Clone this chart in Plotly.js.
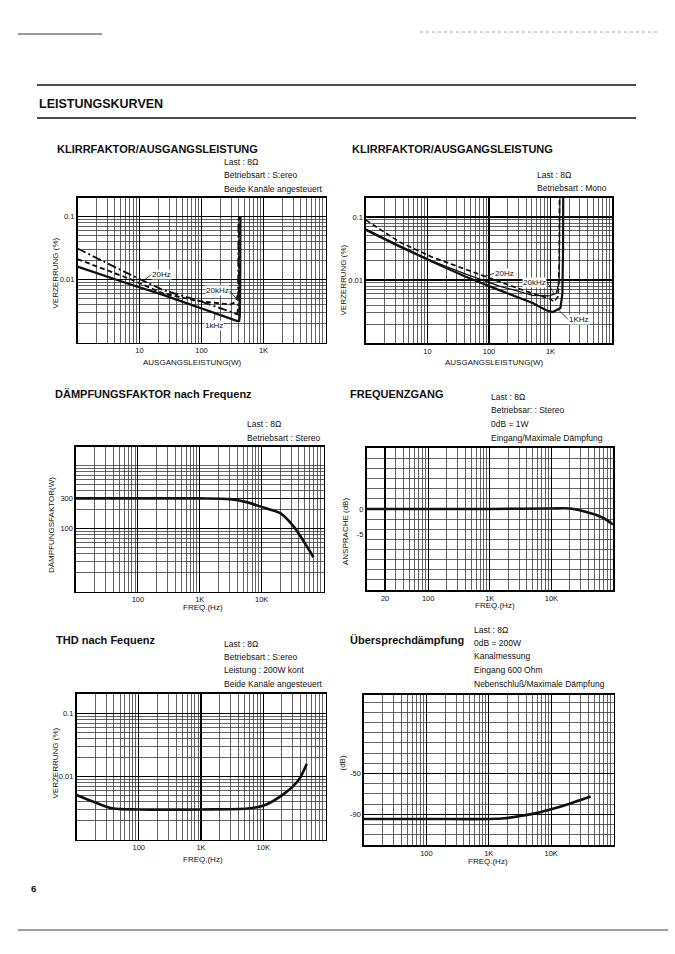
<!DOCTYPE html>
<html>
<head>
<meta charset="utf-8">
<script src="https://cdn.plot.ly/plotly-3.0.1.min.js"></script>
<style>html,body{margin:0;padding:0;background:#fff;}#chart{width:675px;height:954px;}</style>
</head>
<body>
<div id="chart"></div>
<script>
// ---------- DATA ----------
// Chart 1: Klirrfaktor / Ausgangsleistung (Stereo)
const st20HzW   = [1, 3, 7, 24, 84, 288, 380, 390, 392, 395];
const st20HzD   = [0.031, 0.018, 0.012, 0.0068, 0.0047, 0.0031, 0.0028, 0.004, 0.02, 0.1];
const st20kHzW  = [1, 3, 7, 24, 84, 121, 200, 288, 340, 370, 400, 405, 407];
const st20kHzD  = [0.021, 0.014, 0.0102, 0.006, 0.0046, 0.0044, 0.0042, 0.004, 0.0043, 0.0049, 0.0065, 0.02, 0.1];
const st1kHzW   = [1, 3, 7, 24, 84, 288, 370, 405, 415, 420, 422, 425];
const st1kHzD   = [0.016, 0.011, 0.0084, 0.0057, 0.0037, 0.0024, 0.0022, 0.0022, 0.0026, 0.005, 0.02, 0.1];
// Chart 2: Klirrfaktor / Ausgangsleistung (Mono)
const mo20HzW   = [1, 3.5, 12, 42, 147, 513, 955, 1150, 1330, 1390, 1400];
const mo20HzD   = [0.089, 0.040, 0.023, 0.0145, 0.0094, 0.0061, 0.0051, 0.0045, 0.0055, 0.02, 0.2];
const mo20kHzW  = [1, 3.5, 12, 42, 147, 513, 955, 1230, 1380, 1410, 1420];
const mo20kHzD  = [0.064, 0.035, 0.02, 0.0124, 0.008, 0.0057, 0.0056, 0.0061, 0.009, 0.03, 0.2];
const mo1kHzW   = [1, 3.5, 12, 42, 147, 513, 850, 1100, 1450, 1560, 1600, 1610];
const mo1kHzD   = [0.062, 0.034, 0.0195, 0.0112, 0.0069, 0.0043, 0.0033, 0.0031, 0.0036, 0.006, 0.03, 0.2];
// Chart 3: Dämpfungsfaktor nach Frequenz
const dfFreq    = [10, 100, 1000, 3100, 5700, 10700, 20000, 33000, 69000];
const dfValue   = [300, 300, 300, 292, 262, 215, 175, 107, 35];
// Chart 4: Frequenzgang
const frFreq    = [10, 100, 1000, 10000, 20000, 30000, 45000, 70000, 100000];
const frDb      = [0, 0, 0, 0.1, 0.1, -0.3, -0.9, -1.8, -3.1];
// Chart 5: THD nach Frequenz
const thdFreq   = [10, 21, 39, 100, 1000, 5600, 10500, 22000, 37000, 50000];
const thdValue  = [0.0051, 0.0038, 0.0031, 0.003, 0.003, 0.0031, 0.0035, 0.0054, 0.0088, 0.016];
// Chart 6: Übersprechdämpfung
const ctFreq    = [10, 100, 1000, 1800, 3200, 6000, 10000, 21000, 43000];
const ctDb      = [-94.5, -94.5, -94.5, -93.8, -91.6, -88.5, -85, -79, -72.5];

// Tick labels
const powerTicks = [10, 100, 1000];
const powerTickText = ['10', '100', '1K'];
const distTicks = [0.01, 0.1];
const distTickText = ['0.01', '0.1'];
const freqTicks = [100, 1000, 10000];
const freqTickText = ['100', '1K', '10K'];
const freqTicks4 = [20, 100, 1000, 10000];
const freqTickText4 = ['20', '100', '1K', '10K'];
const dfTicks = [100, 300];
const dfTickText = ['100', '300'];
const frTicks = [0, -5];
const frTickText = ['0', '-5'];
const ctTicks = [-50, -90];
const ctTickText = ['-50', '-90'];

// ---------- LAYOUT HELPERS ----------
const W = 675, H = 954;
const FONT = 'Liberation Sans, Arial, Helvetica, sans-serif';
const INK = '#111';
function dx(a, b) { return [a / W, b / W]; }
function dy(a, b) { return [1 - b / H, 1 - a / H]; }
function logVals(e0, e1) {
  const v = [];
  for (let e = e0; e < e1; e++) for (let m = 1; m < 10; m++) v.push(m * Math.pow(10, e));
  v.push(Math.pow(10, e1));
  return v;
}
function linVals(a, b, s) { const v = []; for (let t = a; t <= b + 1e-9; t += s) v.push(t); return v; }

function axis(domain, type, range, tv, tt, minorVals, anchor, majorGrid) {
  return {
    domain, type, range, anchor,
    tickmode: 'array', tickvals: tv, ticktext: tt,
    showgrid: majorGrid !== false, gridcolor: '#000', gridwidth: 1.2,
    minor: { tickmode: 'array', tickvals: minorVals, showgrid: true, gridcolor: '#3c3c3c', gridwidth: 0.8, ticks: '' },
    ticks: '', showline: true, mirror: true, linecolor: '#000', linewidth: 1.6,
    zeroline: false, fixedrange: true,
    tickfont: { family: FONT, size: 7.5, color: INK }
  };
}

function onCurve(xs, ys, x) {
  const lx = Math.log10(x);
  for (let i = 0; i < xs.length - 1; i++) {
    const a = Math.log10(xs[i]), b = Math.log10(xs[i + 1]);
    if (lx >= a && lx <= b) {
      const t = (lx - a) / (b - a);
      return Math.pow(10, Math.log10(ys[i]) + t * (Math.log10(ys[i + 1]) - Math.log10(ys[i])));
    }
  }
  return ys[ys.length - 1];
}

function line(x, y, xa, ya, width, dash, shape) {
  return { x, y, xaxis: xa, yaxis: ya, type: 'scatter', mode: 'lines',
    line: { color: INK, width, dash: dash || 'solid', shape: shape || 'linear', smoothing: 0.8 },
    hoverinfo: 'skip', showlegend: false };
}

const data = [
  line(st20HzW, st20HzD, 'x', 'y', 1.9, '9px,3px,2px,3px'),
  line(st20kHzW, st20kHzD, 'x', 'y', 1.9, '5px,3px'),
  line(st1kHzW, st1kHzD, 'x', 'y', 2.2),
  line(mo20HzW, mo20HzD, 'x2', 'y2', 1.7, '5px,3px'),
  line(mo20kHzW, mo20kHzD, 'x2', 'y2', 1.2),
  line(mo1kHzW, mo1kHzD, 'x2', 'y2', 2.2),
  line(dfFreq, dfValue, 'x3', 'y3', 2.6, 'solid', 'spline'),
  line(frFreq, frDb, 'x4', 'y4', 2.6, 'solid', 'spline'),
  line(thdFreq, thdValue, 'x5', 'y5', 2.6, 'solid', 'spline'),
  line(ctFreq, ctDb, 'x6', 'y6', 2.6, 'solid', 'spline')
];

function T(x, y, text, size, extra) {
  return Object.assign({ xref: 'paper', yref: 'paper', x: x / W, y: 1 - y / H, text, showarrow: false,
    xanchor: 'left', yanchor: 'middle', font: { family: FONT, size, color: INK } }, extra || {});
}
function R(x, y, text) { return T(x, y, text, 8, { xanchor: 'center', textangle: -90 }); }
function C(x, y, text) { return T(x, y, text, 8, { xanchor: 'center' }); }
function L(xa, ya, xs, ys, xv, ax, ay, text, xanchor, yanchor) {
  return { xref: xa, yref: ya, x: Math.log10(xv), y: Math.log10(onCurve(xs, ys, xv)), ax, ay,
    text, showarrow: true, arrowhead: 0, arrowwidth: 0.8, arrowcolor: INK, standoff: 0,
    xanchor, yanchor, bgcolor: '#ffffff', borderpad: 0,
    font: { family: FONT, size: 8, color: INK } };
}

const annotations = [
  T(37, 104, '<b>LEISTUNGSKURVEN</b>', 12.5),
  T(29, 888, '<b>6</b>', 9.5),
  // chart 1
  T(55, 149, '<b>KLIRRFAKTOR/AUSGANGSLEISTUNG</b>', 11),
  T(222, 162, 'Last : 8Ω', 8.5), T(222, 175, 'Betriebsart : S:ereo', 8.5), T(222, 189, 'Beide Kanäle angesteuert', 8.5),
  C(192, 362, 'AUSGANGSLEISTUNG(W)'), R(54.5, 273, 'VERZERRUNG (%)'),
  L('x', 'y', st20HzW, st20HzD, 11.5, 8, -6, '20Hz', 'left', 'middle'),
  L('x', 'y', st20kHzW, st20kHzD, 370, -7, -8, '20kHz', 'right', 'middle'),
  L('x', 'y', st1kHzW, st1kHzD, 165, -1, 7, '1kHz', 'center', 'top'),
  // chart 2
  T(350, 148.5, '<b>KLIRRFAKTOR/AUSGANGSLEISTUNG</b>', 11),
  T(535, 175, 'Last : 8Ω', 8.5), T(535, 188.5, 'Betriebsart : Mono', 8.5),
  C(495, 362, 'AUSGANGSLEISTUNG(W)'), R(342.5, 280, 'VERZERRUNG (%)'),
  L('x2', 'y2', mo20HzW, mo20HzD, 84, 10, -3, '20Hz', 'left', 'middle'),
  L('x2', 'y2', mo20kHzW, mo20kHzD, 1150, -7, -12, '20kHz', 'right', 'middle'),
  L('x2', 'y2', mo1kHzW, mo1kHzD, 1320, 10, 10, '1KHz', 'left', 'middle'),
  // chart 3
  T(53, 394.5, '<b>DÄMPFUNGSFAKTOR</b> <b>nach Frequenz</b>', 11),
  T(245, 424.5, 'Last : 8Ω', 8.5), T(245, 437.5, 'Betriebsart : Stereo', 8.5),
  R(51, 525, 'DÄMPFUNGSFAKTOR(W)'), C(203, 607, 'FREQ.(Hz)'),
  // chart 4
  T(348, 394.5, '<b>FREQUENZGANG</b>', 11),
  T(489, 396.5, 'Last : 8Ω', 8.5), T(489, 410, 'Betriebsar: : Stereo', 8.5),
  T(489, 423.5, '0dB = 1W', 8.5), T(489, 437.5, 'Eingang/Maximale Dämpfung', 8.5),
  R(345, 532, 'ANSPRACHE (dB)'), C(495, 605, 'FREQ.(Hz)'),
  // chart 5
  T(54, 639.5, '<b>THD nach Fequenz</b>', 11),
  T(222, 643.5, 'Last : 8Ω', 8.5), T(222, 657, 'Betriebsart : S:ereo', 8.5),
  T(222, 670, 'Leistung : 200W kont', 8.5), T(222, 684, 'Beide Kanäle angesteuert', 8.5),
  R(54.5, 763, 'VERZERRUNG (%)'), C(203, 859.5, 'FREQ.(Hz)'),
  // chart 6
  T(348, 639.5, '<b>Übersprechdämpfung</b>', 11),
  T(472, 629.5, 'Last : 8Ω', 8.5), T(472, 643, '0dB = 200W', 8.5), T(472, 656, 'Kanalmessung', 8.5),
  T(472, 670, 'Eingang 600 Ohm', 8.5), T(472, 683.5, 'Nebenschluß/Maximale Dämpfung', 8.5),
  R(341.5, 763, '(dB)'), C(488, 861, 'FREQ.(Hz)')
];

function hline(x0, x1, y, color, width, dash) {
  return { type: 'line', xref: 'paper', yref: 'paper', x0: x0 / W, x1: x1 / W, y0: 1 - y / H, y1: 1 - y / H,
    line: { color, width, dash: dash || 'solid' } };
}
const shapes = [
  hline(37, 636, 85, '#111', 1.6),
  hline(37, 636, 118, '#111', 1.6),
  hline(18, 102, 34, '#333', 1),
  hline(420, 660, 32, '#aaa', 1, 'dot'),
  hline(18, 668, 930, '#444', 1.2)
];

const layout = {
  width: W, height: H,
  margin: { l: 0, r: 0, t: 0, b: 0 },
  paper_bgcolor: '#ffffff', plot_bgcolor: '#ffffff',
  showlegend: false,
  font: { family: FONT, color: INK },
  xaxis:  axis(dx(77.5, 325.5), 'log', [0, 4], powerTicks, powerTickText, logVals(0, 4), 'y'),
  yaxis:  axis(dy(197.5, 342.5), 'log', [-3, -0.7], distTicks, distTickText, logVals(-3, -1), 'x'),
  xaxis2: axis(dx(366, 612), 'log', [0, 4], powerTicks, powerTickText, logVals(0, 4), 'y2'),
  yaxis2: axis(dy(198, 343), 'log', [-3, -0.7], distTicks, distTickText, logVals(-3, -1), 'x2'),
  xaxis3: axis(dx(76, 323.5), 'log', [1, 5], freqTicks, freqTickText, logVals(1, 5), 'y3'),
  yaxis3: axis(dy(446.5, 591.5), 'log', [1, 3.301], dfTicks, dfTickText, logVals(1, 3), 'x3'),
  xaxis4: axis(dx(366.5, 613), 'log', [1, 5], freqTicks4, freqTickText4, logVals(1, 5), 'y4'),
  yaxis4: axis(dy(448, 590), 'linear', [-16.1, 12.1], frTicks, frTickText, linVals(-16, 12, 2), 'x4', false),
  xaxis5: axis(dx(76.5, 325.5), 'log', [1, 5], freqTicks, freqTickText, logVals(1, 5), 'y5'),
  yaxis5: axis(dy(694, 839.5), 'log', [-3, -0.69], distTicks, distTickText, logVals(-3, -1), 'x5'),
  xaxis6: axis(dx(364, 613.5), 'log', [1, 5], freqTicks, freqTickText, logVals(1, 5), 'y6'),
  yaxis6: axis(dy(695, 845), 'linear', [-120, 27], ctTicks, ctTickText, linVals(-110, 20, 10), 'x6'),
  annotations, shapes
};

Plotly.newPlot('chart', data, layout, { displayModeBar: false, staticPlot: true });
</script>
</body>
</html>
